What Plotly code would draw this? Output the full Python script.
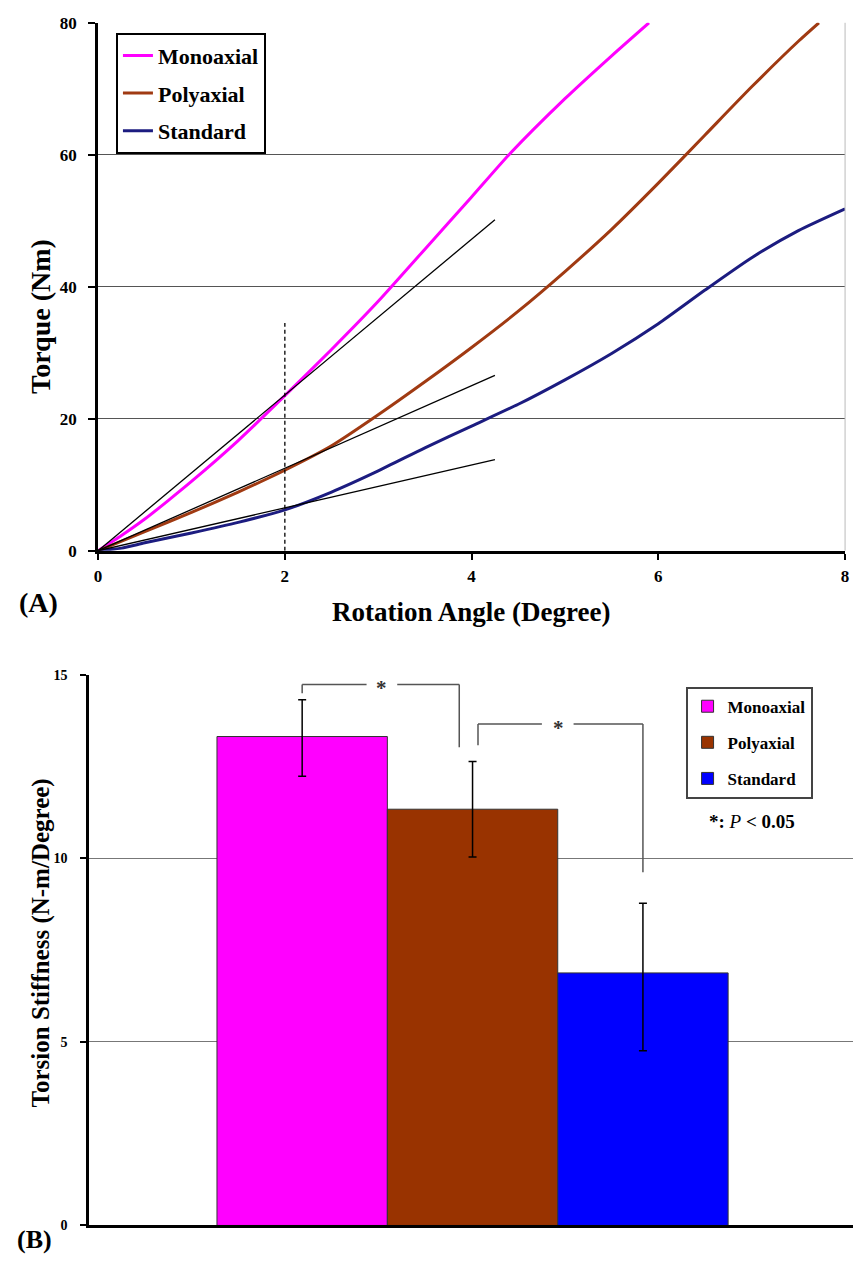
import plotly.graph_objects as go

W, H = 857, 1266

# ---------------- data: panel A (torque vs rotation) ----------------
angle_mono = [0, 0.25, 0.5, 0.75, 1, 1.5, 2, 2.5, 3, 3.5, 4, 4.4, 5, 5.5, 5.9]
torque_mono = [0, 2.3, 4.8, 7.6, 10.5, 16.7, 23.5, 30.5, 37.8, 45.7, 53.6, 60, 68.5, 75, 80]

angle_poly = [0, 0.5, 1, 1.5, 2, 2.5, 3, 3.5, 4, 4.5, 5, 5.5, 6, 6.5, 7, 7.5, 7.72]
torque_poly = [0, 2.9, 5.8, 8.9, 12.2, 15.9, 20.6, 25.6, 30.8, 36.3, 42.3, 48.7, 55.7, 63.0, 70.3, 77.2, 80]

angle_std = [0, 0.25, 0.5, 1, 1.5, 2, 2.5, 3, 3.5, 4, 4.5, 5, 5.5, 6, 6.5, 7, 7.5, 8]
torque_std = [0, 0.4, 1.2, 2.7, 4.3, 6.2, 8.9, 12.1, 15.6, 18.9, 22.2, 25.9, 29.9, 34.4, 39.5, 44.4, 48.5, 51.8]

tangent_slopes = [11.8, 6.25, 3.25]
tangent_end = 4.25
dashed_x = 2
dashed_top = 34.5

series_names = ["Monoaxial", "Polyaxial", "Standard"]
line_colors = ["#FF00FF", "#A03A12", "#1C1C80"]

x_ticks_a = [0, 2, 4, 6, 8]
y_ticks_a = [0, 20, 40, 60, 80]

# ---------------- data: panel B (torsion stiffness) ----------------
groups = ["Monoaxial", "Polyaxial", "Standard"]
stiffness = [13.32, 11.34, 6.88]
err_plus = [1.0, 1.3, 1.9]
err_minus = [1.08, 1.3, 2.12]
bar_colors = ["#FF00FF", "#993300", "#0000FF"]
y_ticks_b = [0, 5, 10, 15]

# significance brackets: (x_left, y_left_bottom, x_right, y_right_bottom, y_top, gap_left, gap_right, star_x)
brackets = [
    (0.0, 14.5, 0.922, 13.03, 14.74, 0.378, 0.558, 0.465),
    (1.032, 13.08, 2.0, 9.62, 13.66, 1.407, 1.593, 1.503),
]

SERIF = "Liberation Serif, Times New Roman, serif"

fig = go.Figure()

# ---- panel A curves ----
curve_data = [(angle_mono, torque_mono), (angle_poly, torque_poly), (angle_std, torque_std)]
for i, (xs, ys) in enumerate(curve_data):
    fig.add_trace(go.Scatter(
        x=xs, y=ys, mode="lines", name=series_names[i],
        line=dict(color=line_colors[i], width=3, shape="spline", smoothing=0.6),
        xaxis="x", yaxis="y", legend="legend", legendgroup=series_names[i],
    ))

# tangent lines
for s in tangent_slopes:
    fig.add_trace(go.Scatter(
        x=[0, tangent_end], y=[0, s * tangent_end], mode="lines",
        line=dict(color="black", width=1.3), showlegend=False,
        xaxis="x", yaxis="y", hoverinfo="skip",
    ))

# dashed vertical at 2 degrees
fig.add_trace(go.Scatter(
    x=[dashed_x, dashed_x], y=[0, dashed_top], mode="lines",
    line=dict(color="black", width=1.3, dash="4px,3px"), showlegend=False,
    xaxis="x", yaxis="y", hoverinfo="skip",
))

# ---- panel B bars ----
for i, g in enumerate(groups):
    fig.add_trace(go.Bar(
        x=[i], y=[stiffness[i]], width=1, name=g,
        marker=dict(color=bar_colors[i], line=dict(color="#333333", width=1)),
        error_y=dict(type="data", symmetric=False, array=[err_plus[i]], arrayminus=[err_minus[i]],
                     color="black", thickness=1.5, width=4),
        xaxis="x2", yaxis="y2", legend="legend2", legendgroup="b" + g,
    ))

shapes = []
# right frame line for panel A
shapes.append(dict(type="line", xref="x domain", yref="y domain", x0=1, x1=1, y0=0, y1=1,
                   line=dict(color="#BBBBBB", width=1)))

annotations = []
for (xl, yl, xr, yr, yt, gl, gr, sx) in brackets:
    seg = [(xl, yl, xl, yt), (xl, yt, gl, yt), (gr, yt, xr, yt), (xr, yt, xr, yr)]
    for (a, b, c, d) in seg:
        shapes.append(dict(type="line", xref="x2", yref="y2", x0=a, y0=b, x1=c, y1=d,
                           line=dict(color="#555555", width=1.5)))
    annotations.append(dict(text="<b>*</b>", x=sx, y=yt, xref="x2", yref="y2", showarrow=False,
                            font=dict(family=SERIF, size=21, color="#333333"), yshift=-4))

# text annotations
annotations += [
    dict(text="<b>(A)</b>", x=35 / W, y=1 - 603 / H, xref="paper", yref="paper", showarrow=False,
         font=dict(family=SERIF, size=28, color="black"), xanchor="center", yanchor="middle"),
    dict(text="<b>(B)</b>", x=31 / W, y=1 - 1249 / H, xref="paper", yref="paper", showarrow=False,
         font=dict(family=SERIF, size=26, color="black"), xanchor="center", yanchor="middle"),
    dict(text="<b>Torque (Nm)</b>", x=37 / W, y=1 - 312 / H, xref="paper", yref="paper", showarrow=False,
         textangle=-90, font=dict(family=SERIF, size=28, color="black"), xanchor="center", yanchor="middle"),
    dict(text="<b>Rotation Angle (Degree)</b>", x=471 / W, y=1 - 612 / H, xref="paper", yref="paper",
         showarrow=False, font=dict(family=SERIF, size=27, color="black"), xanchor="center", yanchor="middle"),
    dict(text="<b>Torsion Stiffness (N-m/Degree)</b>", x=37 / W, y=1 - 948 / H, xref="paper", yref="paper",
         showarrow=False, textangle=-90, font=dict(family=SERIF, size=25, color="black"),
         xanchor="center", yanchor="middle"),
    dict(text="<b>*: </b><i>P</i><b> &lt; 0.05</b>", x=755 / W, y=1 - 825 / H, xref="paper", yref="paper",
         showarrow=False, font=dict(family=SERIF, size=19, color="black"), xanchor="center", yanchor="middle"),
]

axis_font_a = dict(family=SERIF, size=17, color="black", weight="bold")
axis_font_b = dict(family=SERIF, size=14, color="black", weight="bold")

fig.update_layout(
    width=W, height=H, autosize=False,
    margin=dict(l=0, r=0, t=0, b=0),
    paper_bgcolor="white", plot_bgcolor="white",
    barmode="overlay",
    shapes=shapes, annotations=annotations,
    xaxis=dict(domain=[95 / W, 849 / W], range=[0, 8], tickvals=x_ticks_a, showgrid=False, zeroline=False,
               showline=True, linecolor="black", linewidth=3, ticks="outside", ticklen=6, tickwidth=2,
               tickcolor="black", tickfont=axis_font_a, anchor="y", ticklabelstandoff=2),
    yaxis=dict(domain=[1 - 550 / H, 1 - 14 / H], range=[0, 80], tickvals=y_ticks_a, showgrid=True,
               gridcolor="#555555", gridwidth=1, zeroline=False, showline=True, linecolor="black",
               linewidth=3, ticks="outside", ticklen=7, tickwidth=2, tickcolor="black",
               tickfont=axis_font_a, anchor="x", ticklabelstandoff=8),
    xaxis2=dict(domain=[86 / W, 1], range=[-1.25, 3.233], showticklabels=False, ticks="", showgrid=False,
                zeroline=False, showline=True, linecolor="black", linewidth=3, anchor="y2"),
    yaxis2=dict(domain=[1 - 1235 / H, 1 - 676 / H], range=[0, 15], tickvals=y_ticks_b, showgrid=True,
                gridcolor="#777777", gridwidth=1, zeroline=False, showline=True, linecolor="black",
                linewidth=3, ticks="outside", ticklen=6, tickwidth=2, tickcolor="black",
                tickfont=axis_font_b, anchor="x2", ticklabelstandoff=10),
    legend=dict(x=113 / W, y=1 - 24 / H, xanchor="left", yanchor="top", bgcolor="white",
                bordercolor="black", borderwidth=2, tracegroupgap=6, traceorder="grouped",
                font=dict(family=SERIF, size=22, color="black", weight="bold")),
    legend2=dict(x=688 / W, y=1 - 688 / H, xanchor="left", yanchor="top", bgcolor="white",
                 bordercolor="#444444", borderwidth=2, tracegroupgap=11, traceorder="grouped",
                 font=dict(family=SERIF, size=17, color="black", weight="bold")),
    showlegend=True,
)

fig.write_html("out.html", config={"displayModeBar": False},
               post_script="document.body.style.margin='0px';document.body.style.overflow='hidden';")
